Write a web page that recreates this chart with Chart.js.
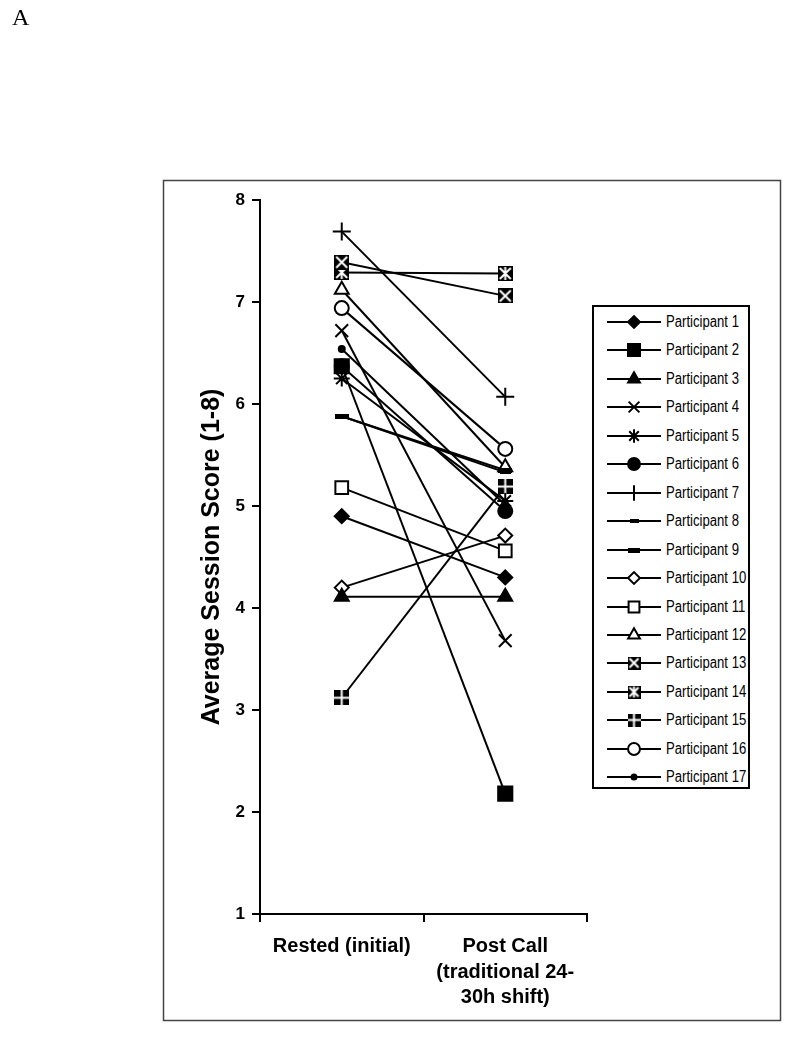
<!DOCTYPE html>
<html>
<head>
<meta charset="utf-8">
<script src="https://cdn.jsdelivr.net/npm/chart.js@4"></script>
<style>
  html, body { margin: 0; padding: 0; background: #fff; }
  #wrap { position: relative; width: 812px; height: 1050px; }
  #panel { position: absolute; left: 12px; top: 4px; font-family: 'Liberation Serif', serif; font-size: 24px; color: #000; }
  #legend { position: absolute; left: 592px; top: 305px; width: 158px; height: 484px; border: 2px solid #000; box-sizing: border-box; background: #fff; }
  .row { position: absolute; left: 0; height: 22px; display: flex; align-items: center; }
  .row canvas { margin-left: 13px; }
  .row span { margin-left: 5px; font-family: 'Liberation Sans', Arial, sans-serif; font-size: 16px; color: #000; white-space: nowrap; display: inline-block; transform: scaleX(0.82); transform-origin: left center; }
</style>
</head>
<body>
<div id="wrap">
  <canvas id="c" width="812" height="1050"></canvas>
  <div id="panel">A</div>
  <div id="legend"></div>
</div>
<script>
const categories = ['Rested (initial)', ['Post Call', '(traditional 24-', '30h shift)']];
const participantNames = ['Participant 1','Participant 2','Participant 3','Participant 4','Participant 5','Participant 6','Participant 7','Participant 8','Participant 9','Participant 10','Participant 11','Participant 12','Participant 13','Participant 14','Participant 15','Participant 16','Participant 17'];
const restedScores   = [4.90, 6.37, 4.11, 6.72, 6.25, 6.37, 7.69, 5.88, 5.88, 4.20, 5.18, 7.12, 7.39, 7.29, 3.12, 6.94, 6.54];
const postCallScores = [4.30, 2.18, 4.11, 3.68, 5.05, 4.95, 6.07, 5.33, 5.35, 4.71, 4.56, 5.38, 7.06, 7.28, 5.19, 5.56, 5.01];
const yTickValues = [1, 2, 3, 4, 5, 6, 7, 8];
const yAxisTitle = 'Average Session Score (1-8)';

function boxMarker(kind, size) {
  const c = document.createElement('canvas');
  c.width = size; c.height = size;
  const g = c.getContext('2d');
  g.fillStyle = '#000'; g.fillRect(0, 0, size, size);
  g.strokeStyle = '#fff'; g.lineWidth = 2;
  g.beginPath();
  if (kind === 'x' || kind === 'xline') {
    g.moveTo(2, 2); g.lineTo(size - 2, size - 2);
    g.moveTo(size - 2, 2); g.lineTo(2, size - 2);
  }
  if (kind === 'xline') {
    g.moveTo(size / 2, 1); g.lineTo(size / 2, size - 1);
  }
  if (kind === 'plus') {
    g.moveTo(size / 2, 0); g.lineTo(size / 2, size);
    g.moveTo(0, size / 2); g.lineTo(size, size / 2);
  }
  g.stroke();
  return c;
}
function dashMarker(w, h) {
  const c = document.createElement('canvas');
  c.width = w; c.height = h;
  const g = c.getContext('2d');
  g.fillStyle = '#000'; g.fillRect(0, 0, w, h);
  return c;
}

function styleFor(i, big) {
  const s = big ? 1 : 0.85;
  switch (i) {
    case 0: return { pointStyle: 'rectRot', bg: '#000', r: 7 * s };
    case 1: return { pointStyle: 'rect', bg: '#000', r: 10 * s };
    case 2: return { pointStyle: 'triangle', bg: '#000', r: 8 * s };
    case 3: return { pointStyle: 'crossRot', bg: '#000', r: 9 * s };
    case 4: return { pointStyle: 'star', bg: '#000', r: 8 * s };
    case 5: return { pointStyle: 'circle', bg: '#000', r: 7 * s };
    case 6: return { pointStyle: 'cross', bg: '#000', r: 9 * s };
    case 7: return { pointStyle: dashMarker(big ? 11 : 9, 4), bg: '#000', r: 6 };
    case 8: return { pointStyle: dashMarker(big ? 14 : 12, 5), bg: '#000', r: 7 };
    case 9: return { pointStyle: 'rectRot', bg: '#fff', r: 7 * s };
    case 10: return { pointStyle: 'rect', bg: '#fff', r: 9 * s };
    case 11: return { pointStyle: 'triangle', bg: '#fff', r: 8 * s };
    case 12: return { pointStyle: boxMarker('x', big ? 15 : 13), bg: '#000', r: 7 };
    case 13: return { pointStyle: boxMarker('xline', big ? 15 : 13), bg: '#000', r: 7 };
    case 14: return { pointStyle: boxMarker('plus', big ? 15 : 13), bg: '#000', r: 7 };
    case 15: return { pointStyle: 'circle', bg: '#fff', r: 7 * s };
    case 16: return { pointStyle: 'circle', bg: '#000', r: big ? 3 : 2.5 };
  }
}

const datasets = participantNames.map((name, i) => {
  const st = styleFor(i, true);
  return {
    label: name,
    data: [restedScores[i], postCallScores[i]],
    borderColor: '#000',
    borderWidth: 2,
    pointStyle: st.pointStyle,
    pointRadius: st.r,
    pointHoverRadius: st.r,
    pointBackgroundColor: st.bg,
    pointBorderColor: '#000',
    pointBorderWidth: 2,
    fill: false,
    tension: 0
  };
});

const framePlugin = {
  id: 'frame',
  beforeDraw(chart) {
    const ctx = chart.ctx;
    ctx.save();
    ctx.strokeStyle = '#444';
    ctx.lineWidth = 1.5;
    ctx.strokeRect(163.5, 180.5, 617, 840);
    ctx.restore();
  }
};

const FONT = "'Liberation Sans', Arial, sans-serif";

new Chart(document.getElementById('c'), {
  type: 'line',
  data: { labels: categories, datasets },
  plugins: [framePlugin],
  options: {
    responsive: false,
    animation: false,
    events: [],
    layout: { padding: { left: 163, right: 225, top: 200, bottom: 0 } },
    plugins: { legend: { display: false }, tooltip: { enabled: false } },
    scales: {
      x: {
        type: 'category',
        offset: true,
        grid: { offset: true, drawOnChartArea: false, tickLength: 8, color: '#000', lineWidth: 2 },
        border: { display: true, color: '#000', width: 2 },
        ticks: { color: '#000', padding: 12, maxRotation: 0, autoSkip: false, font: { family: FONT, size: 20, weight: 'bold', lineHeight: 1.27 } },
        afterFit(scale) { scale.height = 136; }
      },
      y: {
        min: 1, max: 8,
        afterBuildTicks(scale) { scale.ticks = yTickValues.map(v => ({ value: v })); },
        grid: { drawOnChartArea: false, tickLength: 8, color: '#000', lineWidth: 2 },
        border: { display: true, color: '#000', width: 2 },
        ticks: { color: '#000', padding: 7, font: { family: FONT, size: 17, weight: 'bold' } },
        title: { display: true, text: yAxisTitle, color: '#000', padding: { top: 34, bottom: 0 }, font: { family: FONT, size: 25, weight: 'bold' } },
        afterFit(scale) { scale.width = 97; }
      }
    }
  }
});

// HTML legend built from the same datasets
const legend = document.getElementById('legend');
participantNames.forEach((name, i) => {
  const row = document.createElement('div');
  row.className = 'row';
  row.style.top = (17 - 11 - 2 + i * 28.45) + 'px';
  const cv = document.createElement('canvas');
  cv.width = 54; cv.height = 22;
  const g = cv.getContext('2d');
  g.strokeStyle = '#000'; g.lineWidth = 2;
  g.beginPath(); g.moveTo(0, 11); g.lineTo(54, 11); g.stroke();
  const st = styleFor(i, false);
  g.fillStyle = st.bg; g.strokeStyle = '#000'; g.lineWidth = 2;
  Chart.helpers.drawPoint(g, { pointStyle: st.pointStyle, radius: st.r, rotation: 0, borderWidth: 2 }, 27, 11);
  row.appendChild(cv);
  const sp = document.createElement('span');
  sp.textContent = name;
  row.appendChild(sp);
  legend.appendChild(row);
});
</script>
</body>
</html>
